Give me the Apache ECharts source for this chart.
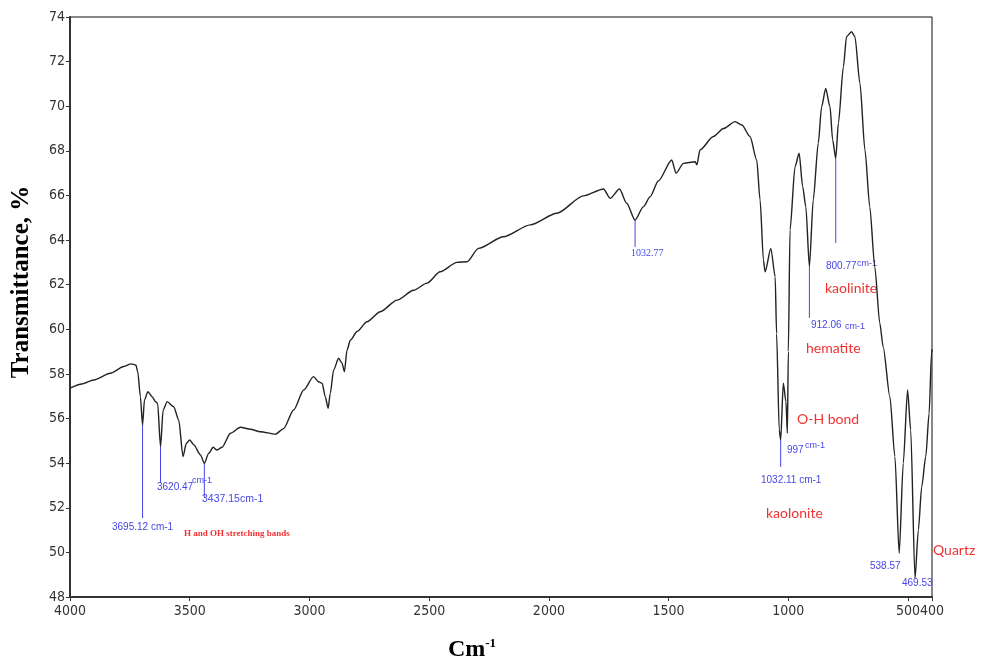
<!DOCTYPE html>
<html>
<head>
<meta charset="utf-8">
<script src="https://cdn.jsdelivr.net/npm/echarts@6/dist/echarts.min.js"></script>
<style>
  html, body { margin: 0; padding: 0; background: #fff; }
  #chart { width: 981px; height: 661px; }
</style>
</head>
<body>
<div id="chart"></div>
<script>
// FTIR spectrum: wavenumber (cm-1) vs transmittance (%)
const wavenumbers = [
    4000, 3950, 3901, 3831, 3775, 3745, 3725, 3717, 3706, 3697, 3689, 3675, 3657, 3643, 3634,
    3622, 3611, 3594, 3567, 3546, 3528, 3514, 3500, 3483, 3455, 3439, 3421, 3402, 3386, 3365,
    3330, 3288, 3247, 3205, 3142, 3108, 3066, 3024, 2983, 2962, 2947, 2934, 2922, 2913, 2899,
    2878, 2864, 2854, 2843, 2829, 2801, 2760, 2704, 2634, 2565, 2509, 2454, 2384, 2342, 2294,
    2190, 2078, 1967, 1856, 1772, 1744, 1705, 1675, 1640, 1605, 1577, 1543, 1487, 1469, 1438,
    1389, 1382, 1369, 1313, 1271, 1222, 1194, 1160, 1132, 1118, 1104, 1097, 1073, 1055, 1049,
    1038, 1032, 1021, 1010, 1004, 1000, 993, 972, 955, 940, 927, 912, 896, 875, 861,
    844, 826, 815, 802, 791, 770, 757, 736, 722, 701, 680, 660, 639, 618, 604,
    576, 555, 537, 520, 502, 489, 471, 457, 443, 426, 412, 402, 400
];
const transmittance = [
    57.36, 57.55, 57.73, 58.03, 58.33, 58.45, 58.40, 58.10, 56.98, 55.71, 56.83, 57.20, 56.98, 56.76, 56.68,
    54.74, 56.38, 56.76, 56.53, 55.94, 54.30, 54.89, 55.04, 54.82, 54.37, 53.99, 54.44, 54.71, 54.59, 54.71,
    55.34, 55.61, 55.52, 55.41, 55.30, 55.55, 56.38, 57.28, 57.88, 57.65, 57.58, 56.98, 56.46, 57.13, 58.18,
    58.70, 58.48, 58.10, 59.07, 59.52, 59.90, 60.34, 60.79, 61.31, 61.75, 62.07, 62.58, 63.00, 63.03, 63.63,
    64.15, 64.68, 65.20, 65.98, 66.29, 65.87, 66.29, 65.65, 64.90, 65.50, 65.95, 66.65, 67.59, 67.00, 67.44,
    67.51, 67.37, 68.04, 68.64, 69.00, 69.31, 69.16, 68.64, 67.59, 65.80, 63.10, 62.58, 63.63, 62.36, 59.80,
    55.49, 55.04, 57.58, 56.76, 55.34, 59.00, 64.45, 67.29, 67.89, 66.39, 65.50, 62.81, 65.80, 68.34, 69.98,
    70.80, 69.98, 68.49, 67.67, 69.24, 71.77, 73.12, 73.34, 73.12, 71.03, 68.04, 65.50, 62.80, 60.27, 59.22,
    56.98, 54.30, 49.96, 54.00, 57.28, 55.49, 48.84, 51.00, 52.95, 54.30, 56.24, 58.93, 59.10
];

// blue marker lines under the labelled bands
const markWn = [3697, 3622, 3439, 1640, 912, 802, 1032];
const markTop = [55.71, 54.74, 53.99, 64.90, 62.81, 67.67, 55.04];
const markBottom = [51.54, 53.11, 52.48, 63.69, 60.51, 63.87, 53.83];

const xTicks = [4000, 3500, 3000, 2500, 2000, 1500, 1000, 500, 400];

const chart = echarts.init(document.getElementById('chart'));

const blue = '#4646e6';
const red = '#f03232';
const labelFont = '"Liberation Sans", Arial, sans-serif';
const tickFont = '"DejaVu Sans Condensed", "Arial Narrow", sans-serif';
const serif = '"Liberation Serif", "Times New Roman", serif';

const markSeries = markWn.map((wn, i) => ({
    type: 'line',
    data: [[wn, markTop[i]], [wn, markBottom[i]]],
    showSymbol: false,
    silent: true,
    lineStyle: { color: blue, width: 1 },
    z: 1
}));

function txt(left, top, text, opts) {
    return {
        type: 'text',
        left: left,
        top: top,
        style: Object.assign({
            text: text,
            fill: blue,
            font: '10px ' + labelFont
        }, opts || {})
    };
}

const redStyle = { fill: red, font: '14px Lato, "Open Sans", sans-serif' };
const smallSup = { font: '9px ' + labelFont };

const option = {
    backgroundColor: '#fff',
    animation: false,
    grid: {
        left: 70, right: 49, top: 17, bottom: 64,
        containLabel: false,
        outerBoundsMode: 'none',
        show: true,
        borderColor: '#111',
        borderWidth: 1
    },
    xAxis: {
        type: 'value',
        min: 400,
        max: 4000,
        inverse: true,
        axisLine: { onZero: false, lineStyle: { color: '#333', width: 2 } },
        axisTick: { customValues: xTicks, length: 4, lineStyle: { color: '#333' } },
        axisLabel: {
            customValues: xTicks,
            showMinLabel: true,
            showMaxLabel: true,
            hideOverlap: false,
            formatter: v => String(v),
            color: '#333',
            fontSize: 14,
            fontFamily: tickFont,
            margin: 7
        },
        splitLine: { show: false }
    },
    yAxis: {
        type: 'value',
        min: 48,
        max: 74,
        interval: 2,
        axisLine: { show: true, lineStyle: { color: '#333', width: 2 } },
        axisTick: { show: true, length: 4, lineStyle: { color: '#333' } },
        axisLabel: {
            color: '#333',
            fontSize: 14,
            fontFamily: tickFont,
            margin: 5
        },
        splitLine: { show: false }
    },
    series: [
        {
            type: 'line',
            data: wavenumbers.map((w, i) => [w, transmittance[i]]),
            showSymbol: false,
            smooth: 0.25,
            smoothMonotone: 'x',
            lineStyle: { color: '#222', width: 1.4 },
            z: 3
        }
    ].concat(markSeries),
    graphic: [
        {
            type: 'text',
            x: 22, y: 282,
            rotation: Math.PI / 2,
            style: {
                text: 'Transmittance, %',
                fill: '#000',
                font: 'bold 25px ' + serif,
                align: 'center',
                verticalAlign: 'middle'
            }
        },
        {
            type: 'text',
            x: 472, y: 650,
            style: {
                text: '{m|Cm}{s|-1}',
                align: 'center',
                verticalAlign: 'middle',
                rich: {
                    m: { font: 'bold 24px ' + serif, fill: '#000' },
                    s: { font: 'bold 13px ' + serif, fill: '#000', verticalAlign: 'top', padding: [0, 0, 12, 0] }
                }
            }
        },
        txt(112, 522, '3695.12 cm-1'),
        txt(157, 482, '3620.47'),
        txt(192, 476, 'cm-1', smallSup),
        txt(202, 494, '3437.15cm-1', { font: '10.5px ' + labelFont }),
        txt(184, 529, 'H and OH stretching bands', { fill: red, font: 'bold 9px ' + serif }),
        txt(631, 248, '1032.77', { font: '10px ' + serif }),
        txt(826, 261, '800.77'),
        txt(857, 259, 'cm-1', smallSup),
        txt(825, 281, 'kaolinite', redStyle),
        txt(811, 320, '912.06'),
        txt(845, 322, 'cm-1', smallSup),
        txt(806, 341, 'hematite', redStyle),
        txt(797, 412, 'O-H bond', redStyle),
        txt(787, 445, '997'),
        txt(805, 441, 'cm-1', smallSup),
        txt(761, 475, '1032.11 cm-1'),
        txt(766, 506, 'kaolonite', redStyle),
        txt(870, 561, '538.57'),
        txt(902, 578, '469.53'),
        txt(933, 543, 'Quartz', redStyle)
    ]
};

chart.setOption(option);
window.addEventListener('resize', () => chart.resize());
</script>
</body>
</html>
